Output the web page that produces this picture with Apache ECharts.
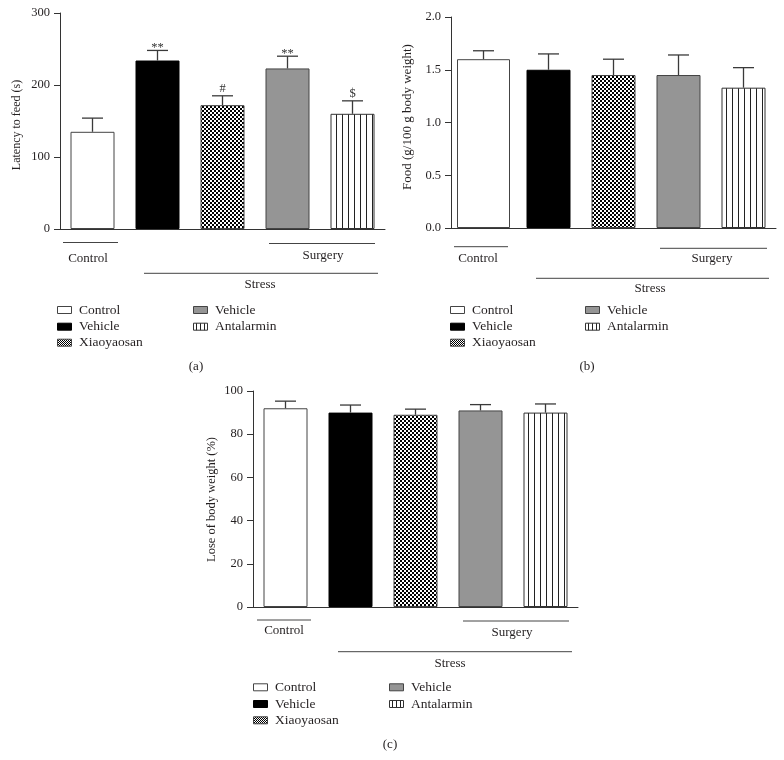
<!DOCTYPE html>
<html><head><meta charset="utf-8">
<script src="https://cdn.jsdelivr.net/npm/echarts@6/dist/echarts.min.js"></script>
<style>html,body{margin:0;padding:0;background:#fff}#c{width:784px;height:760px}</style>
</head><body><div id="c"></div>
<script>
// ---- data ----
const groups = ['Control', 'Stress Vehicle', 'Stress Xiaoyaosan', 'Surgery Vehicle', 'Surgery Antalarmin'];
const legendNames = ['Control', 'Vehicle', 'Xiaoyaosan', 'Vehicle', 'Antalarmin'];
const latencyMean = [135, 234, 172, 223, 160];
const latencySem = [19, 14, 13, 17, 18];
const latencyMarks = ['', '**', '#', '**', '$'];
const latencyTicks = [0, 100, 200, 300];
const foodMean = [1.60, 1.50, 1.45, 1.45, 1.33];
const foodSem = [0.08, 0.15, 0.15, 0.19, 0.19];
const foodTicks = [0, 0.5, 1.0, 1.5, 2.0];
const weightMean = [92, 90, 89, 91, 90];
const weightSem = [3.3, 3.5, 2.6, 2.7, 4.0];
const weightTicks = [0, 20, 40, 60, 80, 100];
const yTitles = ['Latency to feed (s)', 'Food (g/100 g body weight)', 'Lose of body weight (%)'];
const panelTags = ['(a)', '(b)', '(c)'];
const bracketTexts = ['Control', 'Surgery', 'Stress'];

// ---- styles ----
const FONT = '"Liberation Serif", "DejaVu Serif", serif';
const TXT = '#231f20';
function checker(s) {
  const c = document.createElement('canvas'); c.width = 2 * s; c.height = 2 * s;
  const g = c.getContext('2d'); g.fillStyle = '#fff'; g.fillRect(0, 0, 2 * s, 2 * s);
  g.fillStyle = '#000'; g.fillRect(0, 0, s, s); g.fillRect(s, s, s, s); return c;
}
function vlines(w) {
  const c = document.createElement('canvas'); c.width = w; c.height = 4;
  const g = c.getContext('2d'); g.fillStyle = '#fff'; g.fillRect(0, 0, w, 4);
  g.fillStyle = '#222'; g.fillRect(0, 0, 1, 4); return c;
}
const fills = ['#ffffff', '#000000', { image: checker(2), repeat: 'repeat' }, '#959595', { image: vlines(6), repeat: 'repeat' }];
const iconFills = ['#ffffff', '#000000', { image: checker(1), repeat: 'repeat' }, '#959595', { image: vlines(4), repeat: 'repeat' }];
const borders = ['#444', '#000', '#444', '#444', '#333'];

const panels = [
  { grid: { left: 60, top: 13, width: 325, height: 216 }, mean: latencyMean, sem: latencySem, marks: latencyMarks, ticks: latencyTicks, dec: 0,
    title: [17, 125], titleSize: 12, tag: [196, 367],
    lines: [[63, 118, 242.5], [269, 375, 243.5], [144, 378, 273.3]], texts: [[88, 258.3], [323, 255.5], [260, 284.3]],
    legend: { x1: 57, x2: 193, rows: [310, 326.7, 342.7] } },
  { grid: { left: 451, top: 17, width: 325, height: 211 }, mean: foodMean, sem: foodSem, marks: null, ticks: foodTicks, dec: 1,
    title: [408, 117], titleSize: 13, tag: [587, 367], wideFirst: true,
    lines: [[454, 508, 246.7], [660, 767, 248.3], [536, 769, 278.3]], texts: [[478, 258.3], [712, 258.3], [650, 288.3]],
    legend: { x1: 450, x2: 585, rows: [310, 326.7, 342.7] } },
  { grid: { left: 253, top: 391, width: 325, height: 216 }, mean: weightMean, sem: weightSem, marks: null, ticks: weightTicks, dec: 0,
    title: [212, 499.5], titleSize: 12.5, tag: [390, 745],
    lines: [[257, 311, 620], [463, 569, 621], [338, 572, 651.7]], texts: [[284, 631], [512, 633], [450, 664]],
    legend: { x1: 253, x2: 389, rows: [687.3, 704, 720.3] } }
];

function errRender(marks) {
  return function (params, api) {
    const x = api.value(0), m = api.value(1), e = api.value(2);
    const p0 = api.coord([x, m]), p1 = api.coord([x, m + e]);
    const st = { stroke: '#3a3a3a', lineWidth: 1.3 };
    const children = [
      { type: 'line', shape: { x1: p0[0], y1: p0[1], x2: p1[0], y2: p1[1] }, style: st },
      { type: 'line', shape: { x1: p1[0] - 10.5, y1: p1[1], x2: p1[0] + 10.5, y2: p1[1] }, style: st }
    ];
    const mk = marks ? marks[params.dataIndex] : '';
    if (mk) children.push({ type: 'text', style: { text: mk, x: p1[0], y: p1[1] - (mk === '**' ? -4 : 1), align: 'center', verticalAlign: 'bottom', font: '12.5px ' + FONT, fill: '#333' } });
    return { type: 'group', children };
  };
}

const grids = [], xAxes = [], yAxes = [], series = [], graphic = [];
panels.forEach((p, k) => {
  grids.push(Object.assign({ outerBoundsMode: 'none' }, p.grid));
  const lastTick = p.ticks[p.ticks.length - 1];
  xAxes.push({ type: 'category', gridIndex: k, data: groups, axisTick: { show: false }, axisLabel: { show: false },
    axisLine: { show: true, lineStyle: { color: '#333', width: 1 } } });
  yAxes.push({ type: 'value', gridIndex: k, min: p.ticks[0], max: lastTick, interval: p.ticks[1] - p.ticks[0],
    splitLine: { show: false }, axisLine: { show: true, lineStyle: { color: '#333', width: 1 } },
    axisTick: { show: true, length: 6, inside: false, lineStyle: { color: '#333' } },
    axisLabel: { margin: 10, color: TXT, fontFamily: FONT, fontSize: 12.5, formatter: v => v.toFixed(p.dec) } });
  const xi = xAxes.length - 1;
  series.push({ type: 'bar', xAxisIndex: xi, yAxisIndex: k, barWidth: 44, silent: true, animation: false,
    data: p.mean.map((v, i) => (p.wideFirst && i === 0) ? '-' : ({ value: v, itemStyle: { color: fills[i], borderColor: borders[i], borderWidth: 1 } })) });
  if (p.wideFirst) {
    xAxes.push({ type: 'category', gridIndex: k, data: groups, show: false });
    series.push({ type: 'bar', xAxisIndex: xAxes.length - 1, yAxisIndex: k, barWidth: 53, silent: true, animation: false,
      data: p.mean.map((v, i) => i === 0 ? ({ value: v, itemStyle: { color: fills[0], borderColor: borders[0], borderWidth: 1 } }) : '-') });
  }
  series.push({ type: 'custom', xAxisIndex: xi, yAxisIndex: k, silent: true, animation: false, z: 5,
    renderItem: errRender(p.marks), data: p.mean.map((v, i) => [i, v, p.sem[i]]) });

  graphic.push({ type: 'text', x: p.title[0], y: p.title[1], rotation: Math.PI / 2, silent: true,
    style: { text: yTitles[k], x: 0, y: 0, align: 'center', verticalAlign: 'middle', font: p.titleSize + 'px ' + FONT, fill: TXT } });
  p.lines.forEach(l => graphic.push({ type: 'line', silent: true, shape: { x1: l[0], y1: l[2], x2: l[1], y2: l[2] }, style: { stroke: '#444', lineWidth: 1 } }));
  p.texts.forEach((t, j) => graphic.push({ type: 'text', silent: true, style: { text: bracketTexts[j], x: t[0], y: t[1], align: 'center', verticalAlign: 'middle', font: '13px ' + FONT, fill: TXT } }));
  const slots = [[0, 0], [0, 1], [0, 2], [1, 0], [1, 1]];
  slots.forEach((s, i) => {
    const ix = s[0] === 0 ? p.legend.x1 : p.legend.x2;
    const cy = p.legend.rows[s[1]];
    graphic.push({ type: 'rect', silent: true, shape: { x: ix + 0.5, y: cy - 3.5, width: 14, height: 7 },
      style: { fill: iconFills[i], stroke: borders[i], lineWidth: 1 } });
    graphic.push({ type: 'text', silent: true, style: { text: legendNames[i], x: ix + 22, y: cy, align: 'left', verticalAlign: 'middle', font: '13.5px ' + FONT, fill: TXT } });
  });
  graphic.push({ type: 'text', silent: true, style: { text: panelTags[k], x: p.tag[0], y: p.tag[1], align: 'center', verticalAlign: 'middle', font: '13px ' + FONT, fill: TXT } });
});

const chart = echarts.init(document.getElementById('c'), null, { renderer: 'canvas' });
chart.setOption({ animation: false, backgroundColor: '#fff', grid: grids, xAxis: xAxes, yAxis: yAxes, series, graphic });
</script>
</body></html>
